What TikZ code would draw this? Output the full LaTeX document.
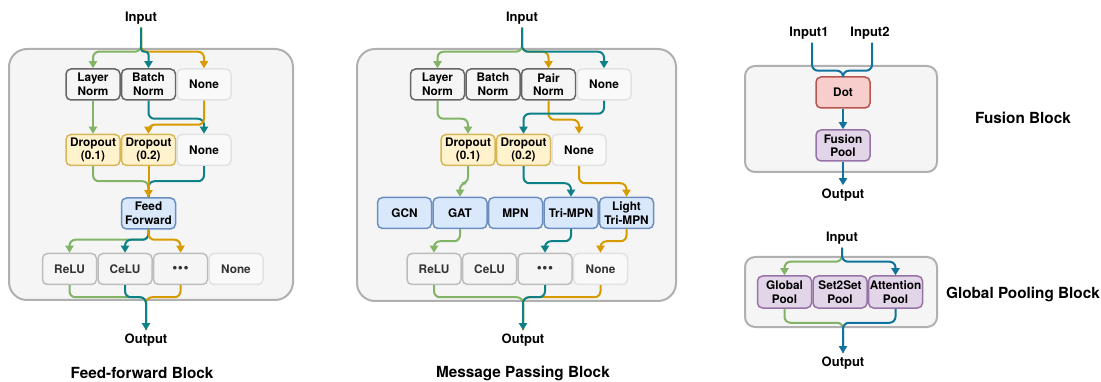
\documentclass[tikz,border=0pt]{standalone}
\usepackage{fontspec}
\setmainfont{TeX Gyre Heros}
\usepackage{tikz}
\usetikzlibrary{positioning,arrows.meta}

\definecolor{lgreen}{HTML}{82B366}
\definecolor{lteal}{HTML}{0E8088}
\definecolor{lyellow}{HTML}{D79B00}
\definecolor{lblue}{HTML}{10739E}
\definecolor{framedraw}{HTML}{B0B0B0}
\definecolor{framefill}{HTML}{F5F5F5}
\definecolor{normdraw}{HTML}{666666}
\definecolor{nonedraw}{HTML}{E2E2E2}
\definecolor{nonefill}{HTML}{F9F9F9}
\definecolor{actdraw}{HTML}{BDBDBD}
\definecolor{acttext}{HTML}{333333}
\definecolor{dropdraw}{HTML}{D6B656}
\definecolor{dropfill}{HTML}{FFF2CC}
\definecolor{layerdraw}{HTML}{6C8EBF}
\definecolor{layerfill}{HTML}{DAE8FC}
\definecolor{dotdraw}{HTML}{B85450}
\definecolor{dotfill}{HTML}{F8CECC}
\definecolor{pooldraw}{HTML}{9673A6}
\definecolor{poolfill}{HTML}{E1D5E7}

\begin{document}
\begin{tikzpicture}[
    x=1pt, y=-1pt,
    node distance=0pt and 0pt,
    frame/.style={draw=framedraw, fill=framefill, line width=2pt, rounded corners=18pt},
    opbox/.style={rectangle, rounded corners=5pt, line width=1.5pt, align=center, minimum width=54pt, minimum height=31pt, inner sep=1pt, font=\fontsize{11.8}{13.5}\selectfont\bfseries},
    normbox/.style={opbox, draw=normdraw, fill=framefill},
    nonebox/.style={opbox, draw=nonedraw, fill=nonefill},
    dropbox/.style={opbox, draw=dropdraw, fill=dropfill},
    layerbox/.style={opbox, draw=layerdraw, fill=layerfill},
    actbox/.style={opbox, draw=actdraw, fill=framefill, text=acttext},
    actnone/.style={opbox, draw=nonedraw, fill=nonefill, text=acttext},
    dotbox/.style={opbox, draw=dotdraw, fill=dotfill},
    poolbox/.style={opbox, draw=pooldraw, fill=poolfill},
    iolabel/.style={font=\fontsize{13}{15}\selectfont\bfseries},
    blocktitle/.style={font=\fontsize{15.3}{18}\selectfont\bfseries},
    link/.style={line width=2pt, rounded corners=6pt},
    arrow/.style={link, -{Triangle[width=8pt,length=7pt]}}
]
    \useasboundingbox (0,0) rectangle (1101,382);

    % Frames
    \draw[frame] (9,49) rectangle (293,300);
    \draw[frame] (357,49) rectangle (676,301);
    \draw[frame, rounded corners=10pt] (745,66) rectangle (937,172);
    \draw[frame, rounded corners=10pt] (745,257) rectangle (937,327);

    % Feed-forward block
    \node[iolabel] (ffin) at (141,18) {Input};
    \node[normbox] (ffln) at (93,84.5) {Layer\\Norm};
    \node[normbox, right=of ffln] (ffbn) {Batch\\Norm};
    \node[nonebox, right=of ffbn] (ffno1) {None};
    \node[dropbox] (ffd1) at (93,150) {Dropout\\(0.1)};
    \node[dropbox, right=of ffd1] (ffd2) {Dropout\\(0.2)};
    \node[nonebox, right=of ffd2] (ffno2) {None};
    \node[layerbox] (ffff) at (148.5,213.5) {Feed\\Forward};
    \node[actbox] (ffrelu) at (69.5,269) {ReLU};
    \node[actbox, right=of ffrelu] (ffcelu) {CeLU};
    \node[actbox, right=of ffcelu] (ffdots) {\Large\textbullet\hspace{0.5pt}\textbullet\hspace{0.5pt}\textbullet};
    \node[actnone, right=of ffdots] (ffno3) {None};
    \node[iolabel] (ffout) at (146,340) {Output};
    \node[blocktitle] (fftitle) at (142,373) {Feed-forward Block};

    % Message passing block
    \node[iolabel] (mpin) at (522,18) {Input};
    \node[normbox] (mpln) at (437.5,84.5) {Layer\\Norm};
    \node[normbox, right=of mpln] (mpbn) {Batch\\Norm};
    \node[normbox, right=of mpbn] (mppn) {Pair\\Norm};
    \node[nonebox, right=of mppn] (mpno1) {None};
    \node[dropbox] (mpd1) at (468,150) {Dropout\\(0.1)};
    \node[dropbox, right=of mpd1] (mpd2) {Dropout\\(0.2)};
    \node[nonebox, right=of mpd2] (mpno2) {None};
    \node[layerbox] (gcn) at (404.5,213) {GCN};
    \node[layerbox, right=of gcn] (gat) {GAT};
    \node[layerbox, right=of gat] (mpn) {MPN};
    \node[layerbox, right=of mpn] (trimpn) {Tri-MPN};
    \node[layerbox, right=of trimpn] (ltrimpn) {Light\\Tri-MPN};
    \node[actbox] (mprelu) at (434,269) {ReLU};
    \node[actbox, right=of mprelu] (mpcelu) {CeLU};
    \node[actbox, right=of mpcelu] (mpdots) {\Large\textbullet\hspace{0.5pt}\textbullet\hspace{0.5pt}\textbullet};
    \node[actnone, right=of mpdots] (mpno3) {None};
    \node[iolabel] (mpout) at (523,340) {Output};
    \node[blocktitle] (mptitle) at (523,373) {Message Passing Block};

    % Fusion block
    \node[iolabel] (in1) at (809,33) {Input1};
    \node[iolabel] (in2) at (870,33) {Input2};
    \node[dotbox] (dot) at (843,92.5) {Dot};
    \node[poolbox] (fpool) at (843,145.5) {Fusion\\Pool};
    \node[iolabel] (fout) at (843,195) {Output};
    \node[blocktitle] (ftitle) at (1023,118) {Fusion Block};

    % Global pooling block
    \node[iolabel] (gin) at (842,238) {Input};
    \node[poolbox, minimum height=32pt] (gpool) at (784.5,292) {Global\\Pool};
    \node[poolbox, minimum height=32pt, right=of gpool] (s2s) {Set2Set\\Pool};
    \node[poolbox, minimum height=32pt, right=of s2s] (attpool) {Attention\\Pool};
    \node[iolabel] (gout) at (843,363) {Output};
    \node[blocktitle] (gtitle) at (1023,294) {Global Pooling Block};

    % Arrows: feed-forward
    \draw[arrow, lgreen] (ffin.south) -- ++(0,24) -| (ffln.north);
    \draw[arrow, lyellow] (ffin.south) -- ++(0,24) -| (ffno1.north);
    \draw[arrow, lteal, rounded corners=3pt] (ffin.south) -- ++(0,24) -| (ffbn.north);
    \draw[arrow, lgreen] (ffln) -- (ffd1);
    \draw[arrow, lteal] (ffbn.south) -- ++(0,18) -| (ffno2.north);
    \draw[arrow, lyellow] (ffno1.south) -- ++(0,24) -| (ffd2.north);
    \draw[link, lgreen] (ffd1.south) -- ++(0,15) -| (ffff.north);
    \draw[link, lteal] (ffno2.south) -- ++(0,15) -| (ffff.north);
    \draw[arrow, lyellow] (ffd2) -- (ffff);
    \draw[arrow, lgreen] (ffff.south) -- ++(0,10) -| (ffrelu.north);
    \draw[arrow, lteal] (ffff.south) -- ++(0,10) -| (ffcelu.north);
    \draw[arrow, lyellow] (ffff.south) -- ++(0,10) -| (ffdots.north);
    \draw[link, lgreen] (ffrelu.south) -- ++(0,12) -| (ffout.north);
    \draw[link, lyellow] (ffdots.south) -- ++(0,12) -| (ffout.north);
    \draw[arrow, lteal] (ffcelu.south) -- ++(0,12) -| (ffout.north);

    % Arrows: message passing
    \draw[arrow, lgreen] (mpin.south) -- ++(0,24) -| (mpln.north);
    \draw[arrow, lyellow] (mpin.south) -- ++(0,24) -| (mppn.north);
    \draw[arrow, lteal] (mpin.south) -- ++(0,24) -| (mpno1.north);
    \draw[arrow, lgreen] (mpln.south) -- ++(0,18) -| (mpd1.north);
    \draw[arrow, lyellow] (mppn.south) -- ++(0,19) -| (mpno2.north);
    \draw[arrow, lteal] (mpno1.south) -- ++(0,13) -| (mpd2.north);
    \draw[arrow, lgreen] (mpd1.south) -- ++(0,17) -| (gat.north);
    \draw[arrow, lteal] (mpd2.south) -- ++(0,17) -| (trimpn.north);
    \draw[arrow, lyellow] (mpno2.south) -- ++(0,17) -| (ltrimpn.north);
    \draw[arrow, lgreen] (gat.south) -- ++(0,12) -| (mprelu.north);
    \draw[arrow, lteal] (trimpn.south) -- ++(0,12) -| (mpdots.north);
    \draw[arrow, lyellow] (ltrimpn.south) -- ++(0,12) -| (mpno3.north);
    \draw[link, lgreen] (mprelu.south) -- ++(0,12) -| (mpout.north);
    \draw[link, lyellow] (mpno3.south) -- ++(0,12) -| (mpout.north);
    \draw[arrow, lteal] (mpdots.south) -- ++(0,12) -| (mpout.north);

    % Arrows: fusion
    \draw[link, lblue] ([xshift=3pt]in1.south) -- ++(0,28) -| (dot.north);
    \draw[link, lblue] ([xshift=2pt]in2.south) -- ++(0,28) -| (dot.north);
    \draw[arrow, lblue] (dot) -- (fpool);
    \draw[arrow, lblue] (fpool) -- (fout);

    % Arrows: global pooling
    \draw[arrow, lgreen] (gin.south) -- ++(0,14) -| (gpool.north);
    \draw[arrow, lblue] (gin.south) -- ++(0,14) -| (attpool.north);
    \draw[link, lgreen] (gpool.south) -- ++(0,14) -| (gout.north);
    \draw[arrow, lblue] (attpool.south) -- ++(0,14) -| (gout.north);

\end{tikzpicture}
\end{document}
